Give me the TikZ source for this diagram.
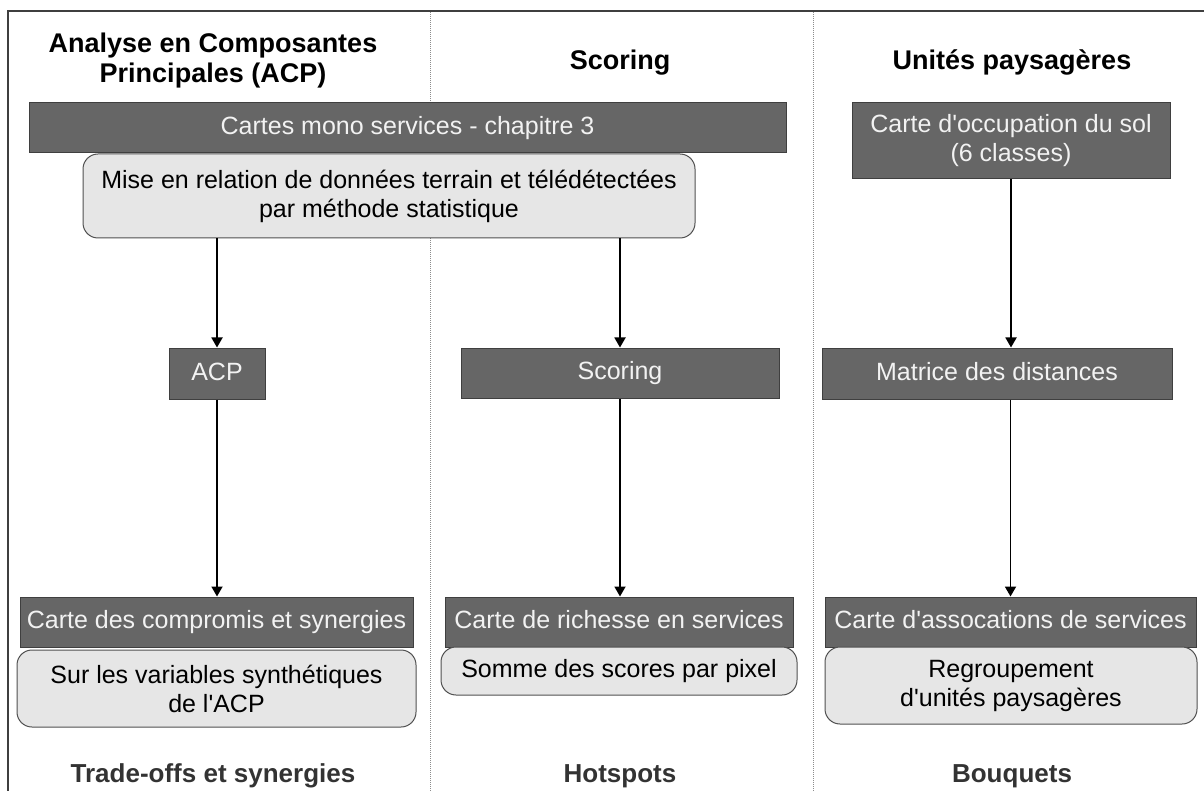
\documentclass[tikz,border=0pt]{standalone}
\usepackage{fontspec}
\setmainfont{Liberation Sans}
\usetikzlibrary{arrows.meta}
\definecolor{darkbox}{HTML}{666666}
\definecolor{darkedge}{HTML}{3F3F3F}
\definecolor{lightbox}{HTML}{E6E6E6}
\definecolor{lightedge}{HTML}{505050}
\definecolor{boxtext}{HTML}{F2F2F2}
\definecolor{footcol}{HTML}{333333}
\definecolor{divcol}{HTML}{8C8C8C}
\newcommand{\apo}{\textquotesingle}
\tikzset{
  darkrect/.style={rectangle, fill=darkbox, draw=darkedge, line width=1pt, text=boxtext,
    inner sep=0pt, align=center, font=\fontsize{25}{29}\selectfont},
  lightrect/.style={rectangle, rounded corners=15pt, fill=lightbox, draw=lightedge, line width=1pt, text=black,
    inner sep=0pt, align=center, font=\fontsize{25}{29}\selectfont},
  oneline/.style={text height=18pt, text depth=5pt},
  headtext/.style={inner sep=0pt, align=center, font=\fontsize{27}{30}\selectfont\bfseries, text=black},
  foottext/.style={inner sep=0pt, anchor=base, font=\fontsize{26}{30}\selectfont\bfseries, text=footcol},
  flow/.style={line width=1.8pt, -{Triangle[width=11pt,length=10pt]}},
  divider/.style={draw=divcol, line width=1pt, densely dotted},
  frame/.style={draw=darkedge, line width=1.6pt}
}
\begin{document}
\begin{tikzpicture}[x=1pt,y=-1pt]
\useasboundingbox (0,0) rectangle (1204,791);
% frame and dividers
\draw[frame] (8,791) -- (8,11) -- (1204,11);
\draw[divider] (430,12) -- (430,791);
\draw[divider] (813,12) -- (813,791);

% headers
\node[headtext] (h1) at (213,61) {Analyse en Composantes\\Principales (ACP)};
\node[headtext, anchor=base] (h2) at (620,70) {Scoring};
\node[headtext, anchor=base] (h3) at (1012,70) {Unités paysagères};

% top boxes
\node[darkrect, oneline, minimum width=757pt, minimum height=50pt] (mono) at (407.5,128) {Cartes mono services - chapitre 3};
\node[lightrect, minimum width=612pt, minimum height=84pt] (mise) at (389,196) {Mise en relation de données terrain et télédétectées\\par méthode statistique};
\node[darkrect, minimum width=318pt, minimum height=76pt] (occ) at (1011,141) {Carte d\apo occupation du sol\\(6 classes)};

% middle boxes
\node[darkrect, oneline, minimum width=96pt, minimum height=51pt] (acp) at (217,373.5) {ACP};
\node[darkrect, oneline, minimum width=318pt, minimum height=50pt] (scoring) at (620,373) {Scoring};
\node[darkrect, oneline, minimum width=350pt, minimum height=51pt] (matrice) at (997,373.5) {Matrice des distances};

% bottom boxes
\node[darkrect, oneline, minimum width=393pt, minimum height=50pt] (compromis) at (216.5,622) {Carte des compromis et synergies};
\node[darkrect, oneline, minimum width=348pt, minimum height=50pt] (richesse) at (619,622) {Carte de richesse en services};
\node[darkrect, oneline, minimum width=371pt, minimum height=50pt] (assoc) at (1010.5,622) {Carte d\apo assocations de services};

\node[lightrect, minimum width=399pt, minimum height=77pt] (sur) at (216.5,688.5) {Sur les variables synthétiques\\de l\apo ACP};
\node[lightrect, oneline, minimum width=356pt, minimum height=48pt] (somme) at (619,671) {Somme des scores par pixel};
\node[lightrect, minimum width=372pt, minimum height=77pt] (regroup) at (1011,685.5) {Regroupement\\d\apo unités paysagères};

% footers
\node[foottext] (f1) at (213,782) {Trade-offs et synergies};
\node[foottext] (f2) at (620,782) {Hotspots};
\node[foottext] (f3) at (1012,782) {Bouquets};

% arrows
\draw[flow] (mise.south -| acp.north) -- (acp.north);
\draw[flow] (mise.south -| scoring.north) -- (scoring.north);
\draw[flow] (occ.south) -- (occ.south |- matrice.north);
\draw[flow] (acp.south) -- (acp.south |- compromis.north);
\draw[flow] (scoring.south) -- (scoring.south |- richesse.north);
\draw[flow] (assoc.north |- matrice.south) -- (assoc.north);
\end{tikzpicture}
\end{document}
